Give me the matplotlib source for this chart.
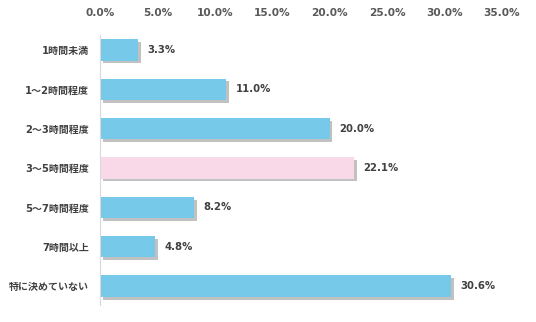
import matplotlib
matplotlib.use("Agg")
import matplotlib.pyplot as plt
import matplotlib.patheffects as pe

# データ
categories = ["1時間未満", "1～2時間程度", "2～3時間程度", "3～5時間程度",
              "5～7時間程度", "7時間以上", "特に決めていない"]
values = [3.3, 11.0, 20.0, 22.1, 8.2, 4.8, 30.6]
highlight = "3～5時間程度"
xticks = [0, 5, 10, 15, 20, 25, 30, 35]

plt.rcParams['font.family'] = ['DejaVu Sans', 'Noto Sans CJK JP']

fig = plt.figure(figsize=(5.36, 3.22), dpi=100)
ax = fig.add_axes([100/536, 1-305/322, 402/536, 270/322])

colors = ['#F9D8E7' if c == highlight else '#77C9EA' for c in categories]
shadow = [pe.SimplePatchShadow(offset=(2, -2), shadow_rgbFace='#999999', alpha=0.6), pe.Normal()]
bars = ax.barh(range(len(categories)), values, height=0.54, color=colors)
for b in bars:
    b.set_path_effects(shadow)

for i, v in enumerate(values):
    ax.text(v + 0.8, i, f"{v:.1f}%", va='center', ha='left',
            fontsize=7.3, fontweight='bold', color='#404040')

ax.set_xlim(0, 35)
ax.set_ylim(6.48, -0.38)
ax.set_xticks(xticks)
ax.set_xticklabels([f"{t:.1f}%" for t in xticks])
ax.xaxis.tick_top()
ax.set_yticks(range(len(categories)))
ax.set_yticklabels(categories)
ax.tick_params(axis='x', length=0, pad=12, labelsize=7.6, labelcolor='#595959')
ax.tick_params(axis='y', length=0, pad=8, labelsize=7.2, labelcolor='#404040')
for lab in ax.get_xticklabels() + ax.get_yticklabels():
    lab.set_fontweight('bold')

for s in ['top', 'right', 'bottom']:
    ax.spines[s].set_visible(False)
ax.spines['left'].set_color('#D9D9D9')

fig.savefig("out.png", dpi=100)
